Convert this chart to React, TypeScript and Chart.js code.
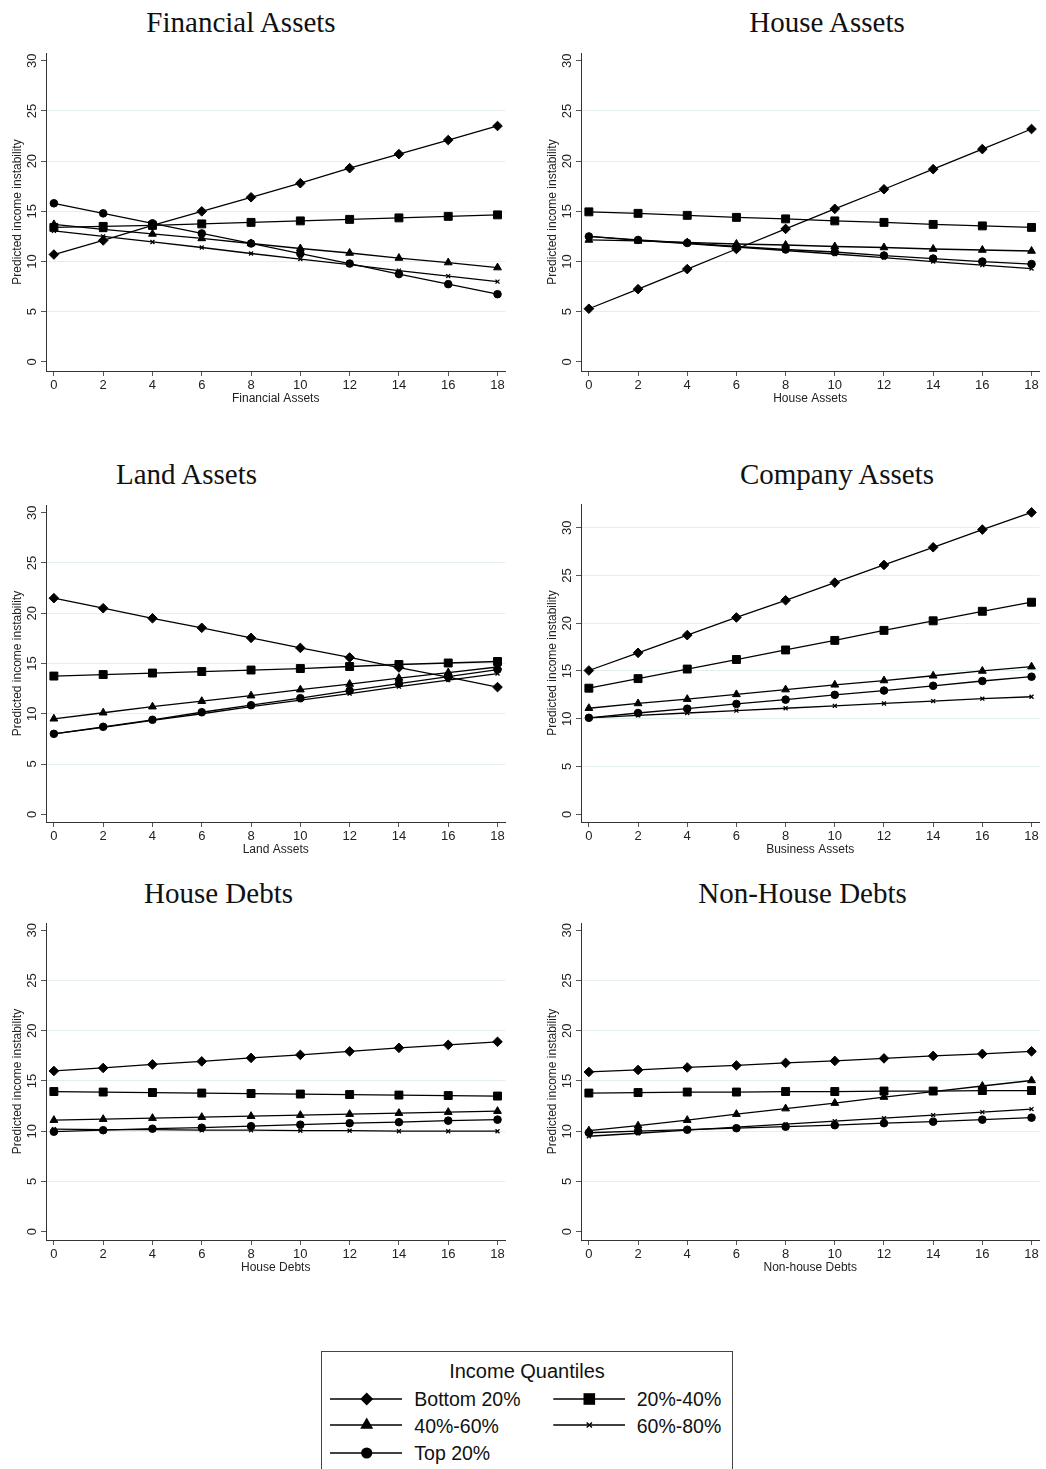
import React, { useEffect, useRef } from "react";
import { Chart, registerables } from "chart.js";

Chart.register(...registerables);

// Shared axis values
const xValues = [0, 2, 4, 6, 8, 10, 12, 14, 16, 18];
const yTickValues = [0, 5, 10, 15, 20, 25, 30];
const quantileLabels = ["Bottom 20%", "20%-40%", "40%-60%", "60%-80%", "Top 20%"];
const yAxisLabel = "Predicted income instability";
const legendTitle = "Income Quantiles";

// Financial Assets
const financialBottom20 = [10.7, 12.1, 13.6, 15.0, 16.4, 17.8, 19.3, 20.7, 22.1, 23.5];
const financial20to40 = [13.4, 13.5, 13.6, 13.75, 13.9, 14.05, 14.2, 14.35, 14.5, 14.65];
const financial40to60 = [13.7, 13.2, 12.75, 12.3, 11.8, 11.3, 10.85, 10.35, 9.9, 9.4];
const financial60to80 = [13.05, 12.5, 11.95, 11.4, 10.8, 10.25, 9.7, 9.1, 8.55, 8.0];
const financialTop20 = [15.8, 14.8, 13.8, 12.8, 11.8, 10.8, 9.8, 8.75, 7.75, 6.75];

// House Assets
const houseBottom20 = [5.3, 7.25, 9.25, 11.25, 13.25, 15.25, 17.2, 19.2, 21.2, 23.2];
const house20to40 = [14.95, 14.8, 14.6, 14.4, 14.25, 14.05, 13.9, 13.7, 13.55, 13.4];
const house40to60 = [12.15, 12.05, 11.9, 11.75, 11.65, 11.5, 11.4, 11.25, 11.15, 11.05];
const house60to80 = [12.5, 12.1, 11.8, 11.45, 11.1, 10.75, 10.4, 10.0, 9.65, 9.3];
const houseTop20 = [12.5, 12.15, 11.85, 11.5, 11.2, 10.95, 10.6, 10.3, 10.0, 9.75];

// Land Assets
const landBottom20 = [21.5, 20.5, 19.5, 18.55, 17.55, 16.55, 15.6, 14.6, 13.65, 12.65];
const land20to40 = [13.75, 13.9, 14.05, 14.2, 14.35, 14.5, 14.7, 14.9, 15.05, 15.2];
const land40to60 = [9.5, 10.1, 10.7, 11.25, 11.8, 12.4, 12.95, 13.55, 14.1, 14.65];
const land60to80 = [8.0, 8.65, 9.35, 10.0, 10.7, 11.35, 12.0, 12.7, 13.35, 14.0];
const landTop20 = [8.0, 8.7, 9.4, 10.15, 10.85, 11.55, 12.3, 13.0, 13.7, 14.4];

// Company (business) Assets
const companyBottom20 = [15.05, 16.9, 18.75, 20.6, 22.4, 24.25, 26.1, 27.95, 29.8, 31.6];
const company20to40 = [13.2, 14.2, 15.2, 16.2, 17.2, 18.2, 19.25, 20.25, 21.25, 22.2];
const company40to60 = [11.1, 11.6, 12.05, 12.55, 13.05, 13.55, 14.0, 14.5, 15.0, 15.45];
const company60to80 = [10.1, 10.35, 10.6, 10.85, 11.1, 11.35, 11.6, 11.85, 12.1, 12.3];
const companyTop20 = [10.1, 10.6, 11.05, 11.55, 12.0, 12.5, 12.95, 13.45, 13.95, 14.4];

// House Debts
const houseDebtBottom20 = [16.0, 16.3, 16.65, 16.95, 17.3, 17.6, 17.95, 18.3, 18.6, 18.9];
const houseDebt20to40 = [13.95, 13.9, 13.85, 13.8, 13.75, 13.7, 13.65, 13.6, 13.55, 13.5];
const houseDebt40to60 = [11.1, 11.2, 11.3, 11.4, 11.5, 11.6, 11.7, 11.8, 11.9, 12.0];
const houseDebt60to80 = [10.2, 10.15, 10.15, 10.1, 10.1, 10.05, 10.05, 10.0, 10.0, 10.0];
const houseDebtTop20 = [9.95, 10.1, 10.25, 10.35, 10.5, 10.65, 10.8, 10.9, 11.05, 11.15];

// Non-house Debts
const nonHouseDebtBottom20 = [15.9, 16.1, 16.35, 16.55, 16.8, 17.0, 17.25, 17.5, 17.7, 17.95];
const nonHouseDebt20to40 = [13.8, 13.85, 13.9, 13.9, 13.95, 13.95, 14.0, 14.0, 14.05, 14.05];
const nonHouseDebt40to60 = [10.05, 10.55, 11.1, 11.7, 12.25, 12.8, 13.4, 13.95, 14.5, 15.05];
const nonHouseDebt60to80 = [9.5, 9.8, 10.1, 10.4, 10.7, 11.0, 11.3, 11.6, 11.9, 12.2];
const nonHouseDebtTop20 = [9.85, 10.0, 10.15, 10.3, 10.45, 10.6, 10.8, 10.95, 11.15, 11.35];

const SANS = "'Liberation Sans', Arial, Helvetica, sans-serif";
const SERIF = "'Liberation Serif', 'Times New Roman', Times, serif";

// Marker look for each quantile, in the order of quantileLabels
const markerStyles = [
  { pointStyle: "rectRot", radius: 4.8, borderWidth: 1 },
  { pointStyle: "rect", radius: 5.6, borderWidth: 1 },
  { pointStyle: "triangle", radius: 4.5, borderWidth: 1 },
  { pointStyle: "crossRot", radius: 2.8, borderWidth: 1.3 },
  { pointStyle: "circle", radius: 3.8, borderWidth: 1 },
];

type PanelSpec = {
  title: string;
  xLabel: string;
  series: number[][];
  yMin: number;
  yMax: number;
  // layout (page pixels)
  left: number;
  top: number;
  width: number;
  height: number;
  padRight: number;
  titleCenter: number;
  titleBaseline: number;
};

const panels: PanelSpec[] = [
  {
    title: "Financial Assets",
    xLabel: "Financial Assets",
    series: [financialBottom20, financial20to40, financial40to60, financial60to80, financialTop20],
    yMin: -0.9, yMax: 30.77,
    left: 0, top: 41, width: 512, height: 369, padRight: 4,
    titleCenter: 241, titleBaseline: 32,
  },
  {
    title: "House Assets",
    xLabel: "House Assets",
    series: [houseBottom20, house20to40, house40to60, house60to80, houseTop20],
    yMin: -0.9, yMax: 30.77,
    left: 535, top: 41, width: 511, height: 369, padRight: 3,
    titleCenter: 827, titleBaseline: 32,
  },
  {
    title: "Land Assets",
    xLabel: "Land Assets",
    series: [landBottom20, land20to40, land40to60, land60to80, landTop20],
    yMin: -0.77, yMax: 30.77,
    left: 0, top: 493, width: 512, height: 368, padRight: 4,
    titleCenter: 186.5, titleBaseline: 484,
  },
  {
    title: "Company Assets",
    xLabel: "Business Assets",
    series: [companyBottom20, company20to40, company40to60, company60to80, companyTop20],
    yMin: -0.81, yMax: 32.48,
    left: 535, top: 492, width: 511, height: 369, padRight: 3,
    titleCenter: 837, titleBaseline: 484,
  },
  {
    title: "House Debts",
    xLabel: "House Debts",
    series: [houseDebtBottom20, houseDebt20to40, houseDebt40to60, houseDebt60to80, houseDebtTop20],
    yMin: -0.83, yMax: 30.73,
    left: 0, top: 911, width: 512, height: 368, padRight: 4,
    titleCenter: 218.5, titleBaseline: 903,
  },
  {
    title: "Non-House Debts",
    xLabel: "Non-house Debts",
    series: [nonHouseDebtBottom20, nonHouseDebt20to40, nonHouseDebt40to60, nonHouseDebt60to80, nonHouseDebtTop20],
    yMin: -0.83, yMax: 30.73,
    left: 535, top: 911, width: 511, height: 368, padRight: 3,
    titleCenter: 802.5, titleBaseline: 903,
  },
];

function Panel({ spec }: { spec: PanelSpec }) {
  const canvasRef = useRef<HTMLCanvasElement | null>(null);

  useEffect(() => {
    const canvas = canvasRef.current;
    if (!canvas) return;
    const datasets = spec.series.map((values, i) => ({
      label: quantileLabels[i],
      data: values.map((v, j) => ({ x: xValues[j], y: v })),
      borderColor: "#000",
      backgroundColor: "#000",
      borderWidth: 1.3,
      tension: 0,
      pointStyle: markerStyles[i].pointStyle as any,
      pointRadius: markerStyles[i].radius,
      pointBorderWidth: markerStyles[i].borderWidth,
      pointBackgroundColor: "#000",
      pointBorderColor: "#000",
      pointHoverRadius: markerStyles[i].radius,
      fill: false,
    }));

    const chart = new Chart(canvas, {
      type: "line",
      data: { datasets },
      options: {
        animation: false,
        responsive: false,
        maintainAspectRatio: false,
        events: [],
        layout: { padding: { top: 12, right: spec.padRight, left: 0, bottom: 0 } },
        plugins: {
          legend: { display: false },
          tooltip: { enabled: false },
          title: { display: false },
        },
        scales: {
          x: {
            type: "linear",
            min: -0.32,
            max: 18.32,
            afterBuildTicks: (scale: any) => {
              scale.ticks = xValues.map((v) => ({ value: v }));
            },
            afterFit: (scale: any) => {
              scale.height = 39;
            },
            grid: {
              drawOnChartArea: false,
              drawTicks: true,
              tickLength: 5,
              tickColor: "#555",
              tickWidth: 1,
            },
            border: { display: true, color: "#333", width: 1 },
            ticks: {
              autoSkip: false,
              maxRotation: 0,
              minRotation: 0,
              padding: 2,
              color: "#222",
              font: { family: SANS, size: 13 },
            },
            title: {
              display: true,
              text: spec.xLabel,
              color: "#222",
              font: { family: SANS, size: 12 },
              padding: { top: 0, bottom: 4 },
            },
          },
          y: {
            type: "linear",
            min: spec.yMin,
            max: spec.yMax,
            afterBuildTicks: (scale: any) => {
              scale.ticks = yTickValues.map((v) => ({ value: v }));
            },
            afterFit: (scale: any) => {
              scale.width = 46;
            },
            grid: {
              color: (ctx: any) => {
                const v = ctx.tick ? ctx.tick.value : null;
                if (v === 0) return "rgba(0,0,0,0)";
                if (v === 30 && spec.yMax < 31) return "rgba(0,0,0,0)";
                return "#e4eef0";
              },
              lineWidth: 1,
              drawTicks: true,
              tickLength: 5,
              tickColor: "#555",
              tickWidth: 1,
            },
            border: { display: true, color: "#333", width: 1 },
            ticks: {
              autoSkip: false,
              minRotation: 90,
              maxRotation: 90,
              crossAlign: "center",
              padding: 1,
              color: "#222",
              font: { family: SANS, size: 13 },
            },
            title: {
              display: true,
              text: yAxisLabel,
              color: "#222",
              font: { family: SANS, size: 12 },
              padding: { top: 10, bottom: 0 },
            },
          },
        },
      } as any,
    });
    return () => chart.destroy();
  }, [spec]);

  return (
    <>
      <div
        style={{
          position: "absolute",
          left: spec.titleCenter - 200,
          top: spec.titleBaseline - 24.3,
          width: 400,
          textAlign: "center",
          fontFamily: SERIF,
          fontSize: 29,
          lineHeight: 1,
          color: "#111",
          whiteSpace: "nowrap",
        }}
      >
        {spec.title}
      </div>
      <canvas
        ref={canvasRef}
        width={spec.width}
        height={spec.height}
        style={{
          position: "absolute",
          left: spec.left,
          top: spec.top,
          width: spec.width,
          height: spec.height,
          display: "block",
        }}
      />
    </>
  );
}

// Legend marker glyphs (same shapes as the chart markers)
function LegendMarker({ kind, cx, cy }: { kind: number; cx: number; cy: number }) {
  if (kind === 0) {
    const r = 6.5;
    return <polygon points={`${cx},${cy - r} ${cx + r},${cy} ${cx},${cy + r} ${cx - r},${cy}`} fill="#000" />;
  }
  if (kind === 1) {
    const h = 5.8;
    return <rect x={cx - h} y={cy - h} width={2 * h} height={2 * h} fill="#000" />;
  }
  if (kind === 2) {
    const r = 7.5;
    const dx = r * Math.sin(Math.PI / 3);
    return <polygon points={`${cx},${cy - r} ${cx + dx},${cy + r / 2} ${cx - dx},${cy + r / 2}`} fill="#000" />;
  }
  if (kind === 3) {
    const h = 2.6;
    return (
      <g stroke="#000" strokeWidth={1.4}>
        <line x1={cx - h} y1={cy - h} x2={cx + h} y2={cy + h} />
        <line x1={cx - h} y1={cy + h} x2={cx + h} y2={cy - h} />
      </g>
    );
  }
  return <circle cx={cx} cy={cy} r={5.6} fill="#000" />;
}

function Legend() {
  // Legend box is anchored at (321, 1351); item positions are relative to its inner edge
  const columns = [
    { lineStart: 8, lineEnd: 80, marker: 44.7, text: 92.3 },
    { lineStart: 231.3, lineEnd: 303, marker: 267.3, text: 314.7 },
  ];
  const rows = [47, 73, 101];
  const textTops = [38.2, 64.8, 91.5];
  const items = quantileLabels.map((label, i) => ({
    label,
    col: columns[i % 2],
    row: Math.floor(i / 2),
    kind: i,
  }));
  return (
    <div
      style={{
        position: "absolute",
        left: 321,
        top: 1351,
        width: 412,
        height: 140,
        border: "1px solid #444",
        boxSizing: "border-box",
        background: "#fff",
      }}
    >
      <div
        style={{
          position: "absolute",
          left: 0,
          top: 9,
          width: 410,
          textAlign: "center",
          fontFamily: SANS,
          fontSize: 20,
          lineHeight: 1,
          color: "#111",
        }}
      >
        {legendTitle}
      </div>
      <svg
        width={410}
        height={138}
        style={{ position: "absolute", left: 0, top: 0 }}
      >
        {items.map((it) => (
          <g key={it.label}>
            <line
              x1={it.col.lineStart}
              x2={it.col.lineEnd}
              y1={rows[it.row]}
              y2={rows[it.row]}
              stroke="#000"
              strokeWidth={1.5}
            />
            <LegendMarker kind={it.kind} cx={it.col.marker} cy={rows[it.row]} />
          </g>
        ))}
      </svg>
      {items.map((it) => (
        <div
          key={it.label + "-t"}
          style={{
            position: "absolute",
            left: it.col.text,
            top: textTops[it.row],
            fontFamily: SANS,
            fontSize: 19.5,
            lineHeight: 1,
            color: "#111",
            whiteSpace: "nowrap",
          }}
        >
          {it.label}
        </div>
      ))}
    </div>
  );
}

export default function App() {
  return (
    <div
      style={{
        position: "absolute",
        left: 0,
        top: 0,
        width: 1046,
        height: 1469,
        overflow: "hidden",
        background: "#fff",
      }}
    >
      {panels.map((p) => (
        <Panel key={p.title} spec={p} />
      ))}
      <Legend />
    </div>
  );
}
